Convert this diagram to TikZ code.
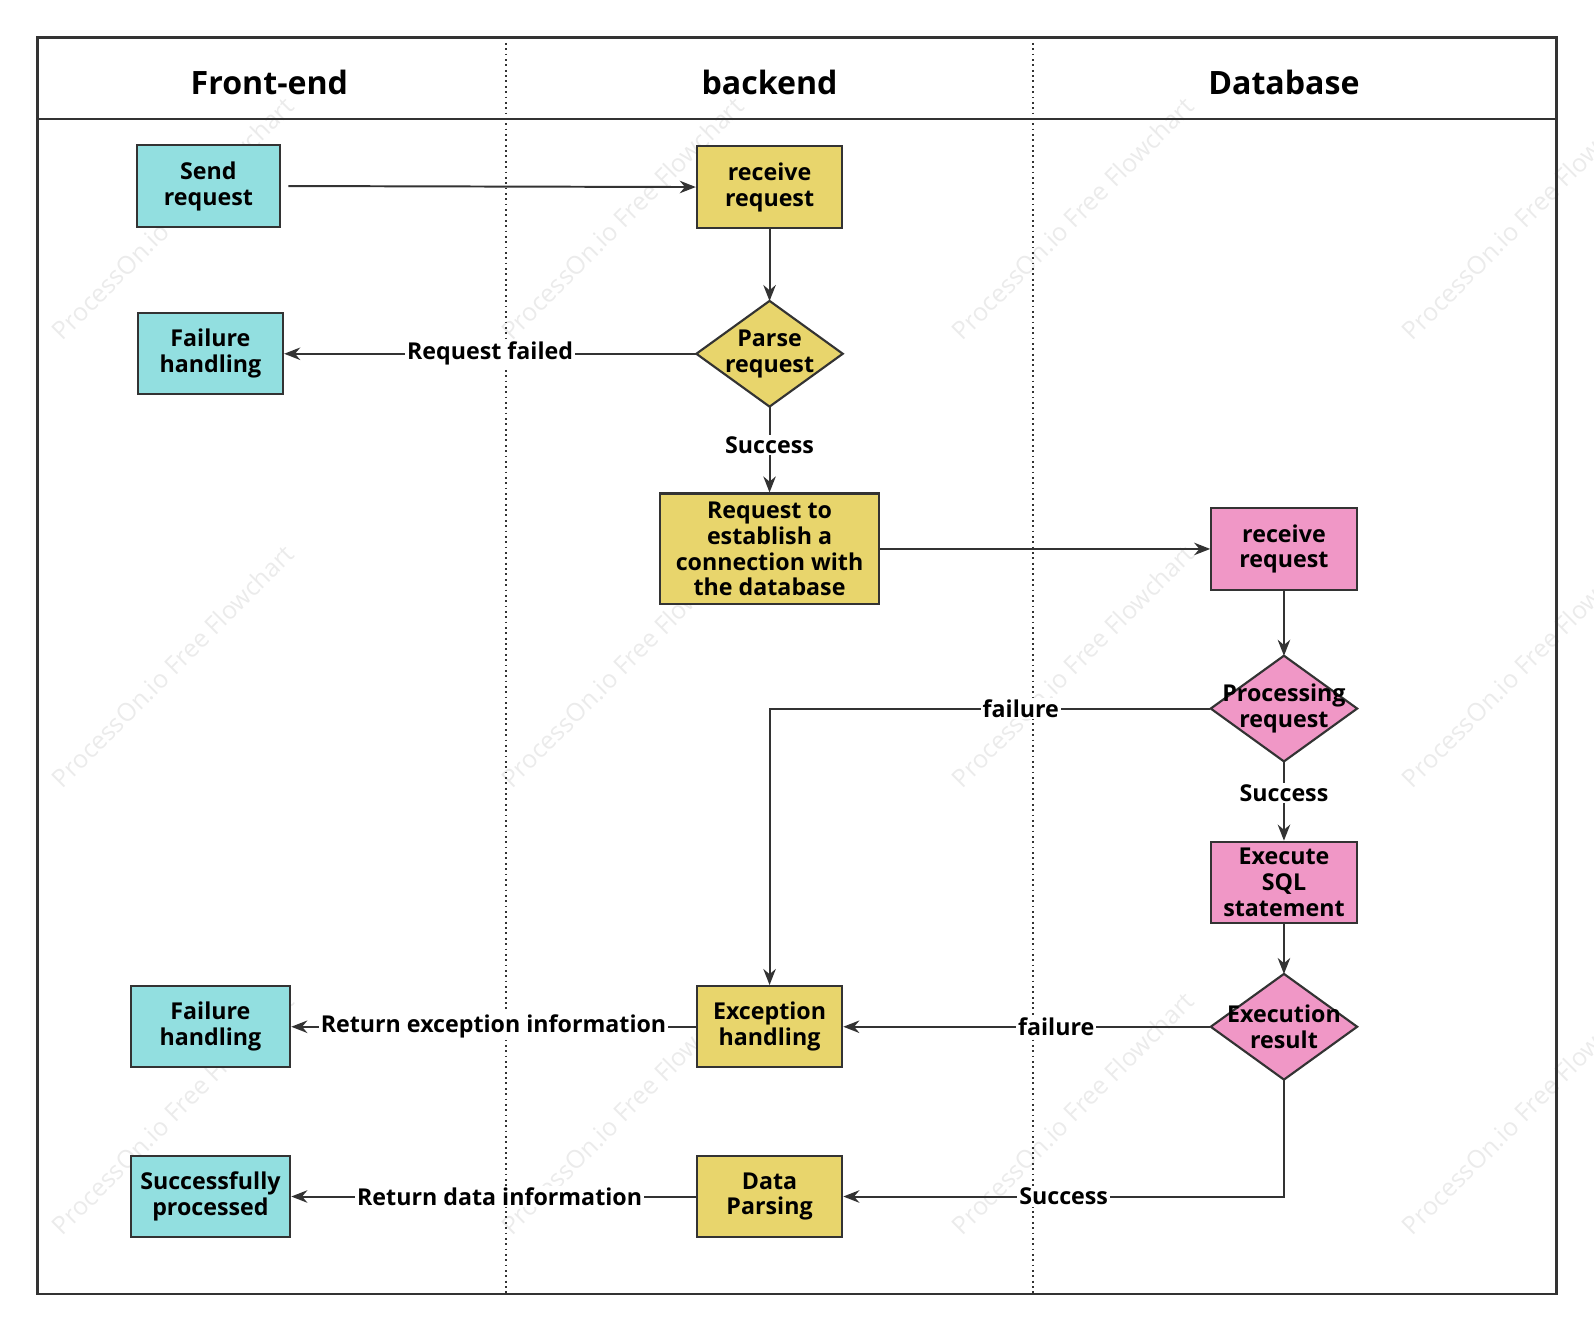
\documentclass[tikz,border=0pt]{standalone}
\usepackage{fontspec}
\setmainfont{Open Sans}
\usetikzlibrary{shapes.geometric,arrows.meta}
\definecolor{cy}{HTML}{92DFE0}
\definecolor{ye}{HTML}{E8D56C}
\definecolor{pk}{HTML}{F097C6}
\definecolor{ln}{HTML}{333333}
\begin{document}
\begin{tikzpicture}[x=0.02cm,y=-0.02cm,
 box/.style={draw=ln,line width=1.2pt,minimum width=2.86cm,minimum height=1.6cm,align=center,font=\bfseries\fontsize{13}{14.5}\selectfont,inner sep=1pt},
 dia/.style={minimum width=2.88cm,minimum height=2.06cm,align=center,font=\bfseries\fontsize{13}{14.5}\selectfont,inner sep=0pt},
 arr/.style={draw=ln,line width=1.1pt,-{Stealth[length=9pt,width=7pt]}},
 lab/.style={fill=white,font=\bfseries\fontsize{13}{15}\selectfont,inner sep=1pt},
 hd/.style={font=\bfseries\fontsize{18}{22}\selectfont},
 wm/.style={text=black!8,rotate=45,font=\fontsize{14}{16}\selectfont}]
\useasboundingbox (0,0) rectangle (1568,1310);
\begin{scope}
\clip (0,0) rectangle (1568,1310);
\foreach \x in {170,612,1055,1498}{\foreach \y in {215,655,1095}{\node[wm] at (\x,\y) {ProcessOn.io Free Flowchart};}}
\end{scope}
\draw[ln,line width=1.3pt] (37,37) rectangle (1531,1273);
\draw[ln,line width=1.3pt] (37,117) -- (1531,117);
\draw[ln,dotted,line width=1pt] (498,37) -- (498,1273);
\draw[ln,dotted,line width=1pt] (1016,37) -- (1016,1273);
\node[hd] (h1) at (265,81) {Front-end};
\node[hd] (h2) at (757,81) {backend};
\node[hd] (h3) at (1263,81) {Database};
\node[box,fill=cy,minimum width=2.82cm] (send) at (205,183) {Send\\request};
\node[box,fill=ye] (rcv) at (757,184) {receive\\request};
\node[box,fill=cy] (fail1) at (207,348) {Failure\\handling};
\node[box,fill=ye,minimum width=4.3cm,minimum height=2.18cm] (est) at (757,540) {Request to\\establish a\\connection with\\the database};
\node[box,fill=pk] (rdb) at (1263,540) {receive\\request};
\node[box,fill=pk] (sql) at (1263,868) {Execute\\SQL\\statement};
\node[box,fill=ye] (exc) at (757,1010) {Exception\\handling};
\node[box,fill=cy,minimum width=3.14cm] (fail2) at (207,1010) {Failure\\handling};
\node[box,fill=ye] (data) at (757,1177) {Data\\Parsing};
\node[box,fill=cy,minimum width=3.14cm] (succ) at (207,1177) {Successfully\\processed};
\foreach \n/\c/\p/\t in {parse/ye/{757,348}/{Parse\\request},proc/pk/{1263,697}/{Processing\\request},res/pk/{1263,1010}/{Execution\\result}}{
 \path (\p) +(-72,0) coordinate (w) +(72,0) coordinate (e) +(0,-52) coordinate (n) +(0,52) coordinate (s);
 \filldraw[fill=\c,draw=ln,line width=1.2pt] (w) -- (n) -- (e) -- (s) -- cycle;
 \node[dia] (\n) at (\p) {\t};
}
\coordinate (c1) at (757,697);
\coordinate (c2) at (1263,1177);
\draw[arr] ([xshift=4]send.east) -- (rcv.west);
\draw[arr] (rcv) -- (parse);
\draw[arr] (parse) -- node[lab]{Request failed} (fail1);
\draw[arr] (parse) -- node[lab,pos=0.45]{Success} (est);
\draw[arr] (est) -- (rdb);
\draw[arr] (rdb) -- (proc);
\draw[arr] (proc.west) -- node[lab,pos=0.43]{failure} (c1) -- (exc);
\draw[arr] (proc) -- node[lab,pos=0.4]{Success} (sql);
\draw[arr] (sql) -- (res);
\draw[arr] (res) -- node[lab,pos=0.42]{failure} (exc);
\draw[arr] (res.south) -- (c2) -- node[lab,pos=0.5]{Success} (data);
\draw[arr] (exc) -- node[lab,pos=0.5]{Return exception information} (fail2);
\draw[arr] (data) -- node[lab,pos=0.485]{Return data information} (succ);
\end{tikzpicture}
\end{document}
